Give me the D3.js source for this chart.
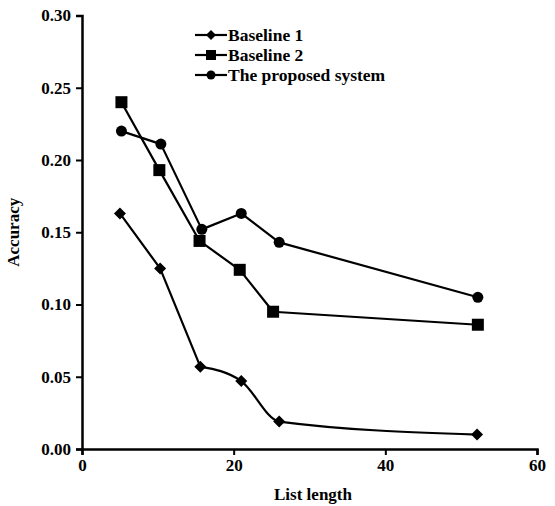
<!DOCTYPE html>
<html><head><meta charset="utf-8">
<script src="https://cdn.jsdelivr.net/npm/d3@7"></script>
<style>body{margin:0;background:#fff}svg{display:block}</style>
</head><body>
<script>
const seriesNames = ["Baseline 1", "Baseline 2", "The proposed system"];
const b1X = [5.0, 10.3, 15.6, 21.0, 26.0, 52.1];
const b1Y = [0.163, 0.125, 0.057, 0.047, 0.019, 0.010];
const b2X = [5.2, 10.2, 15.5, 20.8, 25.2, 52.2];
const b2Y = [0.240, 0.193, 0.144, 0.124, 0.095, 0.086];
const psX = [5.2, 10.4, 15.8, 21.0, 26.0, 52.2];
const psY = [0.220, 0.211, 0.152, 0.163, 0.143, 0.105];
const xTicks = [0, 20, 40, 60];
const yTicks = [0.00, 0.05, 0.10, 0.15, 0.20, 0.25, 0.30];

const W = 555, H = 506;
const svg = d3.select("body").append("svg").attr("width", W).attr("height", H);
const x = d3.scaleLinear().domain([0, 60]).range([82, 537]);
const y = d3.scaleLinear().domain([0, 0.30]).range([449, 15.5]);
const font = "'Liberation Serif', 'Times New Roman', serif";

const xa = svg.append("g").attr("transform", `translate(0,${y(0)})`)
  .call(d3.axisBottom(x).tickValues(xTicks).tickFormat(d3.format("d")).tickSizeOuter(0).tickSize(6).tickPadding(4));
const ya = svg.append("g").attr("transform", `translate(${x(0)},0)`)
  .call(d3.axisLeft(y).tickValues(yTicks).tickFormat(d3.format(".2f")).tickSizeOuter(0).tickSize(6).tickPadding(5));
[xa, ya].forEach(a => {
  a.select(".domain").attr("stroke", "#000").attr("stroke-width", 2.5);
  a.selectAll(".tick line").attr("stroke", "#000").attr("stroke-width", 2);
  a.selectAll("text").attr("font-family", font).attr("font-size", 17).attr("font-weight", "bold").attr("fill", "#000");
});

svg.append("text").attr("x", 313).attr("y", 500).attr("text-anchor", "middle")
  .attr("font-family", font).attr("font-size", 17).attr("font-weight", "bold").text("List length");
svg.append("text").attr("transform", `translate(19,${(y(0)+y(0.3))/2}) rotate(-90)`).attr("text-anchor", "middle")
  .attr("font-family", font).attr("font-size", 17).attr("font-weight", "bold").text("Accuracy");

// smoothFrom: index from which the line is drawn smoothed (null = straight throughout)
const series = [
  {name: seriesNames[0], xs: b1X, ys: b1Y, shape: "diamond", smoothFrom: 2},
  {name: seriesNames[1], xs: b2X, ys: b2Y, shape: "square", smoothFrom: null},
  {name: seriesNames[2], xs: psX, ys: psY, shape: "circle", smoothFrom: null}
];

function marker(g, shape, cx, cy) {
  if (shape === "square") {
    g.append("rect").attr("x", cx - 6).attr("y", cy - 6).attr("width", 12).attr("height", 12).attr("fill", "#000");
  } else if (shape === "circle") {
    g.append("circle").attr("cx", cx).attr("cy", cy).attr("r", 5.5).attr("fill", "#000");
  } else {
    g.append("path").attr("d", `M${cx},${cy-6}L${cx+6},${cy}L${cx},${cy+6}L${cx-6},${cy}Z`).attr("fill", "#000");
  }
}

series.forEach(s => {
  const pts = s.xs.map((v, i) => [x(v), y(s.ys[i])]);
  const parts = s.smoothFrom === null
    ? [[pts, d3.curveLinear]]
    : [[pts.slice(0, s.smoothFrom + 1), d3.curveLinear], [pts.slice(s.smoothFrom), d3.curveMonotoneX]];
  parts.forEach(([p, c]) => {
    svg.append("path").attr("d", d3.line().curve(c)(p))
      .attr("fill", "none").attr("stroke", "#000").attr("stroke-width", 2.2).attr("stroke-linejoin", "round");
  });
  const g = svg.append("g");
  pts.forEach(p => marker(g, s.shape, p[0], p[1]));
});

// legend
series.forEach((s, i) => {
  const ly = 35 + i * 20;
  svg.append("line").attr("x1", 195).attr("x2", 227).attr("y1", ly).attr("y2", ly)
    .attr("stroke", "#000").attr("stroke-width", 2.2);
  const g = svg.append("g");
  if (s.shape === "square") {
    g.append("rect").attr("x", 206).attr("y", ly - 5).attr("width", 10).attr("height", 10).attr("fill", "#000");
  } else if (s.shape === "circle") {
    g.append("circle").attr("cx", 211).attr("cy", ly).attr("r", 4.5).attr("fill", "#000");
  } else {
    g.append("path").attr("d", `M211,${ly-5}L216,${ly}L211,${ly+5}L206,${ly}Z`).attr("fill", "#000");
  }
  svg.append("text").attr("x", 228).attr("y", ly + 6).attr("font-family", font)
    .attr("font-size", 17.5).attr("font-weight", "bold").text(s.name);
});
</script>
</body></html>
